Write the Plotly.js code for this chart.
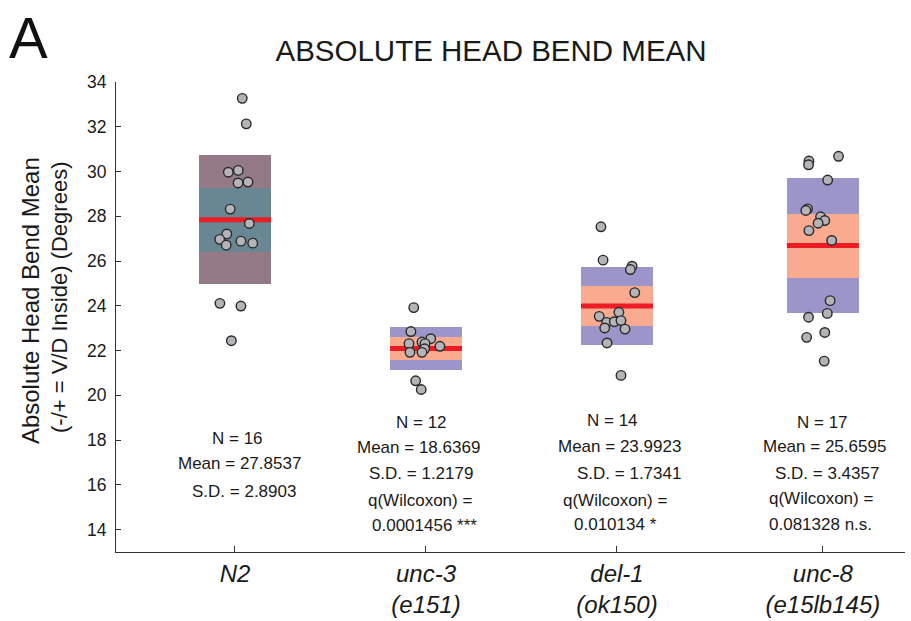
<!DOCTYPE html>
<html>
<head>
<meta charset="utf-8">
<script src="https://cdn.plot.ly/plotly-3.0.1.min.js"></script>
<style>html,body{margin:0;padding:0;background:#fff;}#chart{width:911px;height:621px;}</style>
</head>
<body>
<div id="chart"></div>
<script>
// ---- data ----
const categories = ['N2', 'unc-3', 'del-1', 'unc-8'];
const tickLabels = ['<i>N2</i>', '<i>unc-3</i><br><i>(e151)</i>', '<i>del-1</i><br><i>(ok150)</i>', '<i>unc-8</i><br><i>(e15lb145)</i>'];
const means = [27.85, 22.09, 23.99, 26.69];   // red line
const sds = [2.89, 0.97, 1.74, 3.01];         // outer band half-height
const ciHalf = [1.43, 0.51, 0.91, 1.43];      // inner band half-height

const n2Values = [33.27, 32.13, 29.97, 30.05, 29.49, 29.53, 28.32, 27.68, 27.21, 26.97, 26.71, 26.89, 26.80, 24.11, 23.99, 22.44];
const n2Jitter = [0.038, 0.059, -0.035, 0.017, 0.016, 0.068, -0.025, 0.075, -0.043, -0.080, -0.046, 0.031, 0.093, -0.079, 0.031, -0.019];
const unc3Values = [23.92, 22.85, 22.53, 22.38, 22.31, 22.31, 22.19, 22.08, 21.92, 21.92, 20.65, 20.26];
const unc3Jitter = [-0.064, -0.079, 0.025, -0.021, -0.005, -0.089, 0.073, -0.007, -0.084, -0.021, -0.054, -0.025];
const del1Values = [27.53, 26.04, 25.77, 25.62, 24.59, 23.71, 23.53, 23.26, 23.29, 23.34, 23.01, 22.96, 22.34, 20.89];
const del1Jitter = [-0.084, -0.073, 0.079, 0.070, 0.093, 0.010, -0.093, -0.054, -0.014, 0.021, -0.064, 0.042, -0.052, 0.021];
const unc8Values = [30.68, 30.47, 30.30, 29.62, 28.33, 28.26, 27.98, 27.81, 27.69, 27.36, 26.92, 24.23, 23.66, 23.49, 22.81, 22.59, 21.53];
const unc8Jitter = [0.082, -0.073, -0.075, 0.025, -0.080, -0.089, -0.012, 0.010, -0.025, -0.073, 0.046, 0.038, 0.023, -0.075, 0.010, -0.085, 0.007];

const statsLines = [
  ['N = 16', 'Mean = 27.8537', 'S.D. = 2.8903'],
  ['N = 12', 'Mean = 18.6369', 'S.D. = 1.2179', 'q(Wilcoxon) =', '0.0001456 ***'],
  ['N = 14', 'Mean = 23.9923', 'S.D. = 1.7341', 'q(Wilcoxon) =', '0.010134 *'],
  ['N = 17', 'Mean = 25.6595', 'S.D. = 3.4357', 'q(Wilcoxon) =', '0.081328 n.s.']
];

// ---- layout / style ----
const positions = [1, 2, 3, 4.078];
const boxWidth = 0.377;
const outerColors = ['rgb(148,121,134)', 'rgb(156,149,201)', 'rgb(156,149,201)', 'rgb(156,149,201)'];
const innerColors = ['rgb(105,135,147)', 'rgb(249,170,143)', 'rgb(249,170,143)', 'rgb(249,170,143)'];
const FONT = '"Liberation Sans", Arial, sans-serif';

const outer = {
  type: 'bar', x: positions, base: means.map((m, i) => m - sds[i]), y: sds.map(s => 2 * s),
  width: boxWidth, marker: {color: outerColors, line: {width: 0}}, hoverinfo: 'skip', showlegend: false
};
const inner = {
  type: 'bar', x: positions, base: means.map((m, i) => m - ciHalf[i]), y: ciHalf.map(s => 2 * s),
  width: boxWidth, marker: {color: innerColors, line: {width: 0}}, hoverinfo: 'skip', showlegend: false
};
const lx = [], ly = [];
positions.forEach((p, i) => { lx.push(p - boxWidth / 2, p + boxWidth / 2, null); ly.push(means[i], means[i], null); });
const meanLine = {type: 'scatter', mode: 'lines', x: lx, y: ly, line: {color: 'rgb(237,28,36)', width: 5}, hoverinfo: 'skip', showlegend: false};

const groups = [[n2Values, n2Jitter], [unc3Values, unc3Jitter], [del1Values, del1Jitter], [unc8Values, unc8Jitter]];
const pointTraces = groups.map((g, i) => ({
  type: 'scatter', mode: 'markers', name: categories[i],
  x: g[1].map(j => positions[i] + j), y: g[0],
  marker: {size: 9.5, color: 'rgb(180,180,184)', line: {color: 'rgb(40,40,40)', width: 1.4}},
  showlegend: false
}));

// stats text placement (pixel offsets & data y for each line)
const lineY = [
  [18.07, 16.95, 15.70],
  [18.79, 17.67, 16.51, 15.30, 14.18],
  [18.88, 17.71, 16.51, 15.30, 14.22],
  [18.79, 17.71, 16.51, 15.39, 14.22]
];
const lineShift = [
  [3, 5, 9],
  [-4, -7, -5, -6, -1],
  [-4, 3, 12, -2, -1],
  [0, 2, 4, -2, -2]
];
const annotations = [];
statsLines.forEach((lines, i) => {
  lines.forEach((t, k) => {
    annotations.push({text: t, x: positions[i], y: lineY[i][k], xref: 'x', yref: 'y', xshift: lineShift[i][k],
      showarrow: false, xanchor: 'center', yanchor: 'middle', font: {family: FONT, size: 17, color: '#1a1a1a'}});
  });
});
annotations.push({text: 'A', xref: 'paper', yref: 'paper', x: -0.1115, y: 1.094, showarrow: false,
  xanchor: 'center', yanchor: 'middle', font: {family: FONT, size: 58, color: '#111'}});
annotations.push({text: 'Absolute Head Bend Mean', xref: 'paper', yref: 'paper', x: -0.109, y: 0.536, textangle: -90,
  showarrow: false, xanchor: 'center', yanchor: 'middle', font: {family: FONT, size: 24, color: '#1a1a1a'}});
annotations.push({text: '(-/+ = V/D Inside) (Degrees)', xref: 'paper', yref: 'paper', x: -0.071, y: 0.5426, textangle: -90,
  showarrow: false, xanchor: 'center', yanchor: 'middle', font: {family: FONT, size: 22, color: '#1a1a1a'}});

const layout = {
  width: 911, height: 621,
  margin: {l: 116, r: 6, t: 82, b: 69},
  paper_bgcolor: '#fff', plot_bgcolor: '#fff',
  barmode: 'overlay', bargap: 0,
  title: {text: 'ABSOLUTE HEAD BEND MEAN', x: 0.539, xref: 'container', xanchor: 'center', y: 0.919, yref: 'container', yanchor: 'middle',
    font: {family: FONT, size: 29.5, color: '#1a1a1a'}},
  xaxis: {range: [0.377, 4.508], tickvals: positions, ticktext: tickLabels, ticks: 'inside', ticklen: 6, tickcolor: '#333',
    showline: true, linecolor: '#333', linewidth: 1, showgrid: false, zeroline: false,
    tickfont: {family: FONT, size: 24, color: '#1a1a1a'}},
  yaxis: {range: [13, 34], tickvals: [14, 16, 18, 20, 22, 24, 26, 28, 30, 32, 34], ticks: 'inside', ticklen: 5, tickcolor: '#333',
    showline: true, linecolor: '#333', linewidth: 1, showgrid: false, zeroline: false, ticklabelstandoff: 5,
    tickfont: {family: FONT, size: 17.5, color: '#1a1a1a'}},
  annotations: annotations,
  showlegend: false
};

Plotly.newPlot('chart', [outer, inner, meanLine].concat(pointTraces), layout, {displayModeBar: false, staticPlot: true});
</script>
</body>
</html>
